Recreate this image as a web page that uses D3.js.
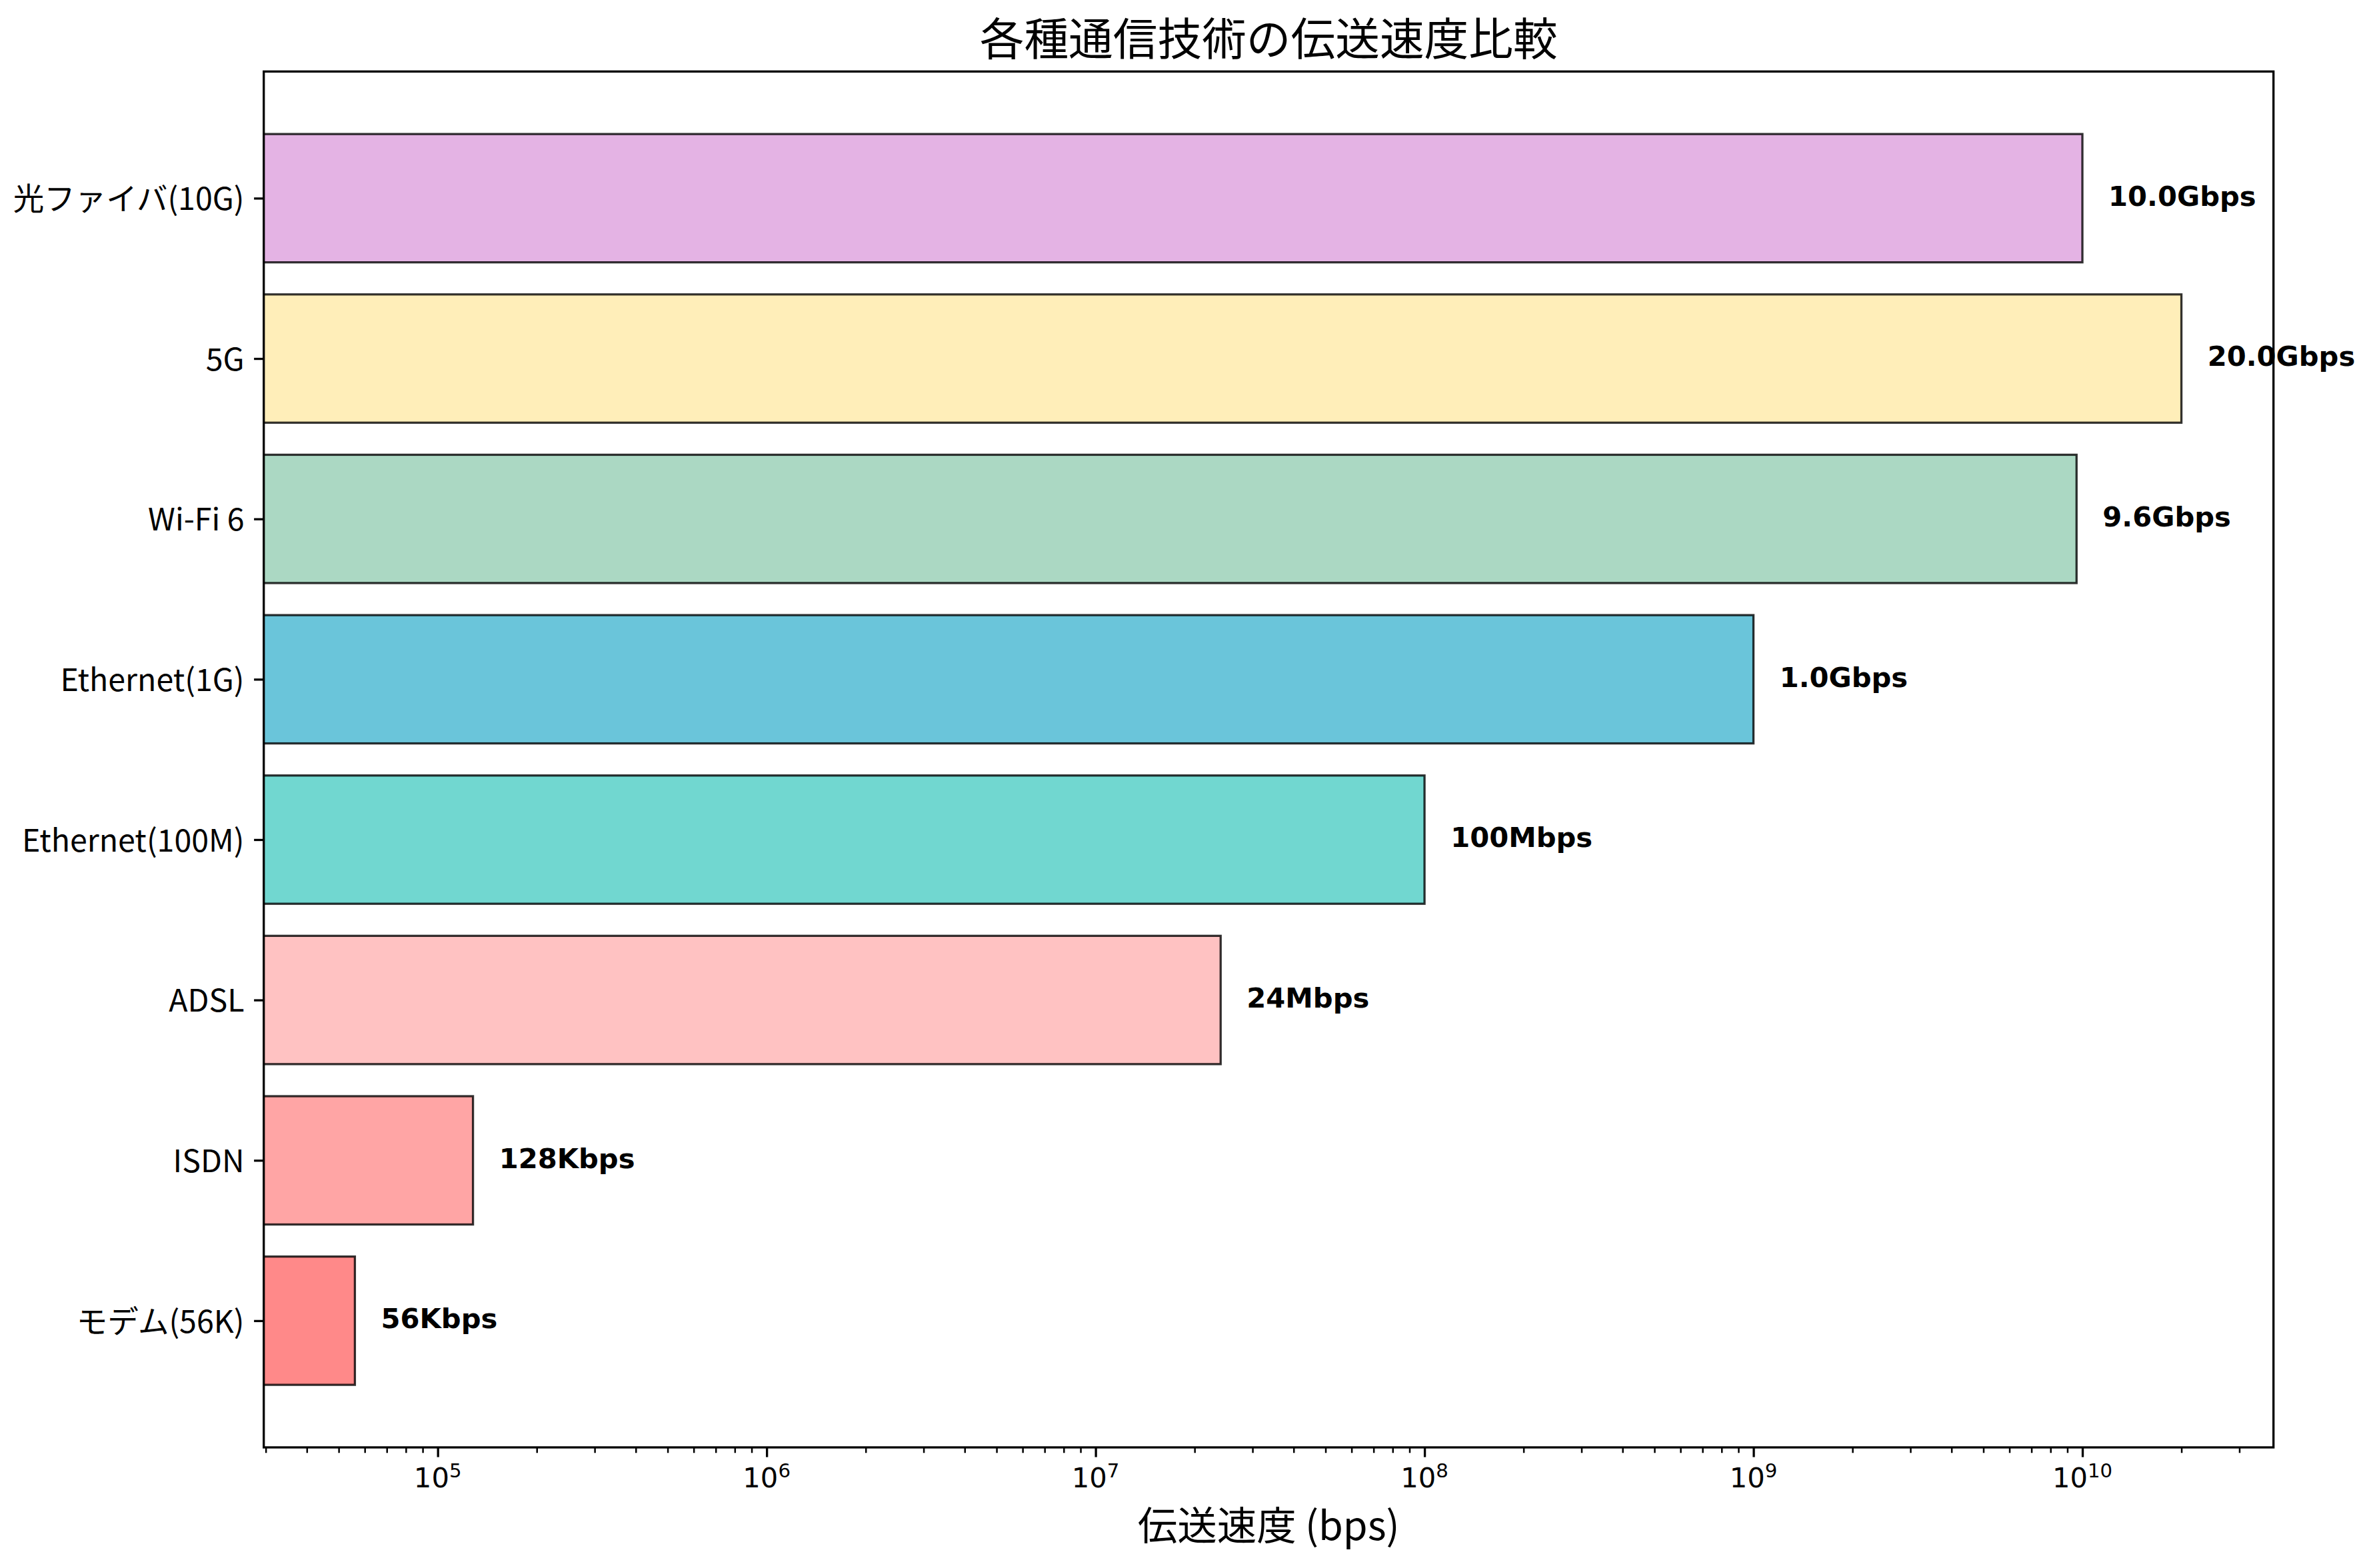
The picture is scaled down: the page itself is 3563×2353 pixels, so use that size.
<!DOCTYPE html>
<html>
<head>
<meta charset="utf-8">
<script src="https://cdn.jsdelivr.net/npm/d3@7"></script>
<style>
html, body { margin: 0; padding: 0; background: #fff; }
svg { display: block; }
</style>
</head>
<body>
<svg id="chart" width="3563" height="2353"></svg>
<script>
// ---- data ----
const categories = ["モデム(56K)", "ISDN", "ADSL", "Ethernet(100M)", "Ethernet(1G)", "Wi-Fi 6", "5G", "光ファイバ(10G)"];
const speeds = [56e3, 128e3, 24e6, 100e6, 1e9, 9.6e9, 20e9, 10e9];
const speedLabels = ["56Kbps", "128Kbps", "24Mbps", "100Mbps", "1.0Gbps", "9.6Gbps", "20.0Gbps", "10.0Gbps"];
const barColors = ["#FF6B6B", "#FF8E8E", "#FFB3B3", "#4ECDC4", "#45B7D1", "#96CEB4", "#FFEAA7", "#DDA0DD"];
const majorTicks = [1e5, 1e6, 1e7, 1e8, 1e9, 1e10];
const majorExponents = ["5", "6", "7", "8", "9", "10"];
const xDomain = [29590, 3.81e10];
const titleText = "各種通信技術の伝送速度比較";
const xLabelText = "伝送速度 (bps)";

(function () {
// ---- layout ----
const W = 3563, H = 2353;
const pL = 395.7, pR = 3410.7, pT = 107.3, pB = 2172;
const jpFont = "'Noto Sans CJK JP', 'Noto Sans', sans-serif";
const dvFont = "'DejaVu Sans', sans-serif";

const svg = d3.select("#chart").attr("viewBox", `0 0 ${W} ${H}`);
svg.append("rect").attr("width", W).attr("height", H).attr("fill", "#fff");

const x = d3.scaleLog().domain(xDomain).range([pL, pR]);
const y = d3.scaleLinear().domain([-0.79, categories.length - 1 + 0.79]).range([pB, pT]);

svg.append("defs").append("clipPath").attr("id", "clip")
  .append("rect").attr("x", pL).attr("y", pT).attr("width", pR - pL).attr("height", pB - pT);

const barH = y(0) - y(0.8);
const data = categories.map((c, i) => ({ c, v: speeds[i], lab: speedLabels[i], col: barColors[i], i }));

svg.append("g").attr("clip-path", "url(#clip)")
  .selectAll("rect").data(data).enter().append("rect")
  .attr("x", pL - 20)
  .attr("y", d => y(d.i + 0.4))
  .attr("width", d => x(d.v) - (pL - 20))
  .attr("height", barH)
  .attr("fill", d => d.col)
  .attr("fill-opacity", 0.8)
  .attr("stroke", "#000")
  .attr("stroke-opacity", 0.8)
  .attr("stroke-width", 3.3);

// value labels
svg.append("g").selectAll("text").data(data).enter().append("text")
  .attr("x", d => x(d.v * 1.2))
  .attr("y", d => y(d.i) + 11.3)
  .attr("font-family", dvFont)
  .attr("font-weight", "bold")
  .attr("font-size", 41.7)
  .attr("fill", "#000")
  .text(d => d.lab);

// x axis minor ticks
const minorTicks = [];
for (let e = 4; e <= 10; e++) {
  for (let m = 2; m <= 9; m++) {
    const v = m * Math.pow(10, e);
    if (v >= xDomain[0] && v <= xDomain[1]) minorTicks.push(v);
  }
}
const xAxisMinor = d3.axisBottom(x).tickValues(minorTicks).tickSize(8.3).tickFormat("");
const gMinor = svg.append("g").attr("transform", `translate(0,${pB})`).call(xAxisMinor);
gMinor.select(".domain").remove();
gMinor.selectAll("line").attr("stroke", "#000").attr("stroke-width", 2.5);

const xAxisMajor = d3.axisBottom(x).tickValues(majorTicks).tickSize(14.6).tickFormat("");
const gMajor = svg.append("g").attr("transform", `translate(0,${pB})`).call(xAxisMajor);
gMajor.select(".domain").remove();
gMajor.selectAll("line").attr("stroke", "#000").attr("stroke-width", 3.3);

// major tick labels 10^n
const tl = svg.append("g").selectAll("text").data(majorTicks).enter().append("text")
  .attr("x", d => x(d))
  .attr("y", 2232)
  .attr("text-anchor", "middle")
  .attr("font-family", dvFont)
  .attr("font-size", 41.7)
  .attr("fill", "#000");
tl.append("tspan").text("10");
tl.append("tspan").attr("dy", -15).attr("font-size", 29.2).text((d, i) => majorExponents[i]);

// y axis
const yAxis = d3.axisLeft(y).tickValues(d3.range(categories.length)).tickSize(14.6).tickFormat("");
const gY = svg.append("g").attr("transform", `translate(${pL},0)`).call(yAxis);
gY.select(".domain").remove();
gY.selectAll("line").attr("stroke", "#000").attr("stroke-width", 3.3);

svg.append("g").selectAll("text").data(categories).enter().append("text")
  .attr("x", pL - 14.6 - 14.6)
  .attr("y", (d, i) => y(i) + 17.8)
  .attr("text-anchor", "end")
  .attr("font-family", jpFont)
  .attr("font-size", 46.5)
  .attr("fill", "#000")
  .text(d => d);

// frame (spines)
svg.append("rect").attr("x", pL).attr("y", pT).attr("width", pR - pL).attr("height", pB - pT)
  .attr("fill", "none").attr("stroke", "#000").attr("stroke-width", 3.3);

// title
svg.append("text")
  .attr("x", (pL + pR) / 2)
  .attr("y", 83)
  .attr("text-anchor", "middle")
  .attr("font-family", jpFont)
  .attr("font-size", 66.7)
  .attr("fill", "#000")
  .text(titleText);

// x label
svg.append("text")
  .attr("x", (pL + pR) / 2)
  .attr("y", 2311)
  .attr("text-anchor", "middle")
  .attr("font-family", jpFont)
  .attr("font-size", 59.5)
  .attr("fill", "#000")
  .text(xLabelText);
})();
</script>
</body>
</html>
